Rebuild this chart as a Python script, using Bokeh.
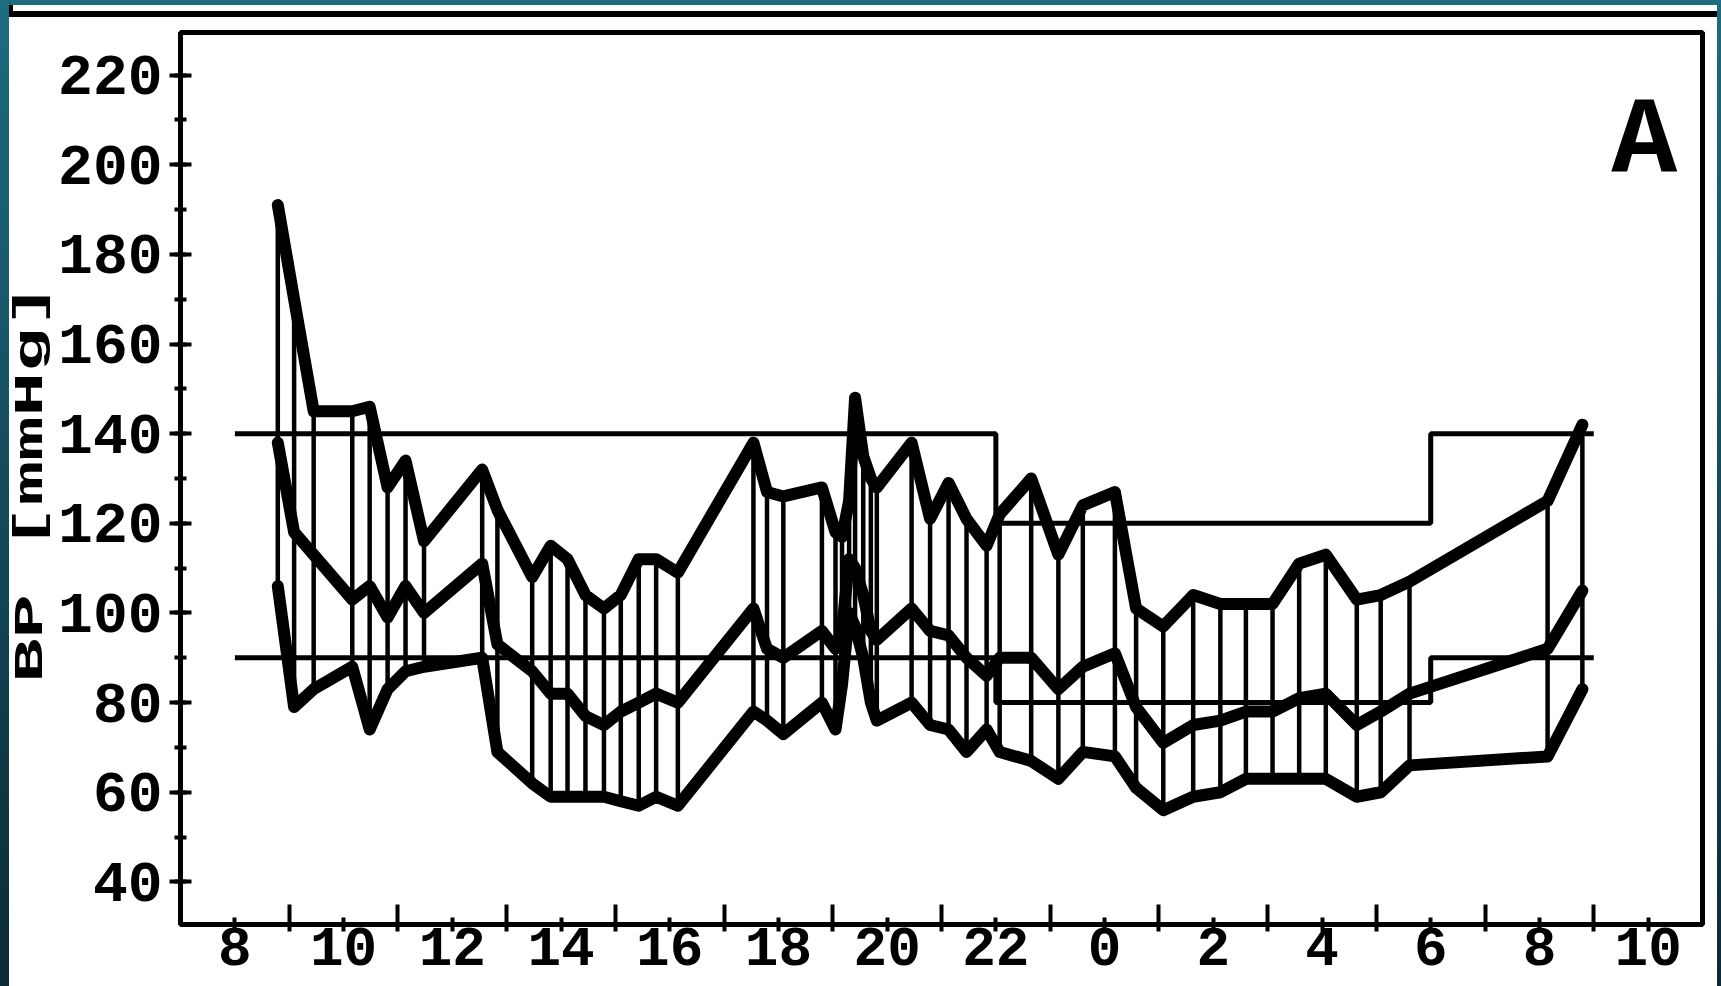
import math
from bokeh.plotting import figure
from bokeh.models import FixedTicker, SingleIntervalTicker, Label, Div, Range1d
from bokeh.layouts import column, row
from bokeh.embed import file_html
from bokeh.resources import INLINE

# ---- data (hours of day, continuous; 24 = midnight) ----
times = [8.79, 9.09, 9.45, 10.16, 10.48, 10.81, 11.14, 11.48, 12.55, 12.83,
         13.47, 13.81, 14.12, 14.45, 14.79, 15.10, 15.43, 15.75, 16.15, 17.54,
         17.79, 18.09, 18.80, 19.05, 19.17, 19.30, 19.41, 19.56, 19.70, 19.81,
         20.45, 20.79, 21.13, 21.46, 21.83, 22.07, 22.65, 23.15, 23.60, 24.19,
         24.58, 25.08, 25.63, 26.13, 26.60, 27.09, 27.58, 28.07, 28.64, 29.08,
         29.61, 32.15, 32.79]
systolic = [191, 170, 145, 145, 146, 128, 134, 116, 132, 123,
            108, 115, 112, 104, 101, 104, 112, 112, 109, 138,
            127, 126, 128, 118, 117, 125, 148, 135, 130, 128,
            138, 121, 129, 121, 115, 122, 130, 113, 124, 127,
            101, 97, 104, 102, 102, 102, 111, 113, 103, 104,
            107, 125, 142]
mean_bp = [138, 118, 113, 103, 106, 99, 106, 100, 111, 93,
           87, 82, 82, 77, 75, 78, 80, 82, 80, 101,
           92, 90, 96, 92, 96, 112, 110, 104, 96, 94,
           101, 96, 95, 90, 86, 90, 90, 83, 88, 91,
           79, 71, 75, 76, 78, 78, 81, 82, 75, 78,
           82, 92, 105]
diastolic = [106, 79, 83, 88, 74, 83, 87, 88, 90, 69,
             62, 59, 59, 59, 59, 58, 57, 59, 57, 78,
             76, 73, 80, 74, 84, 100, 97, 90, 80, 76,
             80, 75, 74, 69, 74, 69, 67, 63, 69, 68,
             61, 56, 59, 60, 63, 63, 63, 63, 59, 60,
             66, 68, 83]

# day / night limits (step changes at 22:00 and 6:00)
limit_x = [8.0, 22.0, 30.0, 33.0]
sys_limit = [140, 120, 140, 140]
dia_limit = [90, 80, 90, 90]

tick_hours = [8, 10, 12, 14, 16, 18, 20, 22, 24, 26, 28, 30, 32, 34]
tick_labels = ["8", "10", "12", "14", "16", "18", "20", "22", "0", "2", "4", "6", "8", "10"]
minor_hours = [9, 11, 13, 15, 17, 19, 21, 23, 25, 27, 29, 31, 33]

FONT = "Liberation Mono"
LABEL_W = 46
W, H = 1708 - LABEL_W, 969

p = figure(width=W, height=H, x_range=Range1d(7.0, 35.0), y_range=Range1d(30.5, 229.5),
           output_backend="svg", toolbar_location=None,
           min_border_left=178 - 9 - LABEL_W, min_border_right=15,
           min_border_top=15, min_border_bottom=62)
p.background_fill_color = "white"
p.border_fill_color = "white"
p.outline_line_color = "black"
p.outline_line_width = 5
p.grid.visible = False

# x axis
xa = p.xaxis[0]
xa.ticker = FixedTicker(ticks=tick_hours, minor_ticks=minor_hours)
xa.major_label_overrides = {h: lab for h, lab in zip(tick_hours, tick_labels)}
xa.axis_line_width = 5
xa.axis_line_color = "black"
xa.major_tick_in = 7
xa.major_tick_out = 7
xa.major_tick_line_width = 4
xa.minor_tick_in = 20
xa.minor_tick_out = 7
xa.minor_tick_line_width = 4
xa.major_label_text_font = FONT
xa.major_label_text_font_style = "bold"
xa.major_label_text_font_size = "56px"
xa.major_label_text_line_height = 0.8
xa.major_label_text_color = "black"
xa.major_label_standoff = -4

# y axis
ya = p.yaxis[0]
ya.ticker = SingleIntervalTicker(interval=20, num_minor_ticks=2)
ya.axis_line_width = 5
ya.axis_line_color = "black"
ya.major_tick_in = 11
ya.major_tick_out = 11
ya.major_tick_line_width = 4
ya.minor_tick_in = 6
ya.minor_tick_out = 6
ya.minor_tick_line_width = 4
ya.major_label_text_font = FONT
ya.major_label_text_font_style = "bold"
ya.major_label_text_font_size = "58px"
ya.major_label_text_color = "black"
ya.major_label_standoff = 7

# vertical connectors systolic -> diastolic
p.segment(x0=times, y0=diastolic, x1=times, y1=systolic, line_color="black", line_width=4.5)

# limit lines
p.step(x=limit_x, y=sys_limit, mode="after", line_color="black", line_width=5)
p.step(x=limit_x, y=dia_limit, mode="after", line_color="black", line_width=5)

# BP curves
for series in (systolic, mean_bp, diastolic):
    p.line(x=times, y=series, line_color="black", line_width=12, line_join="round", line_cap="round")

# marker letter top right
p.add_layout(Label(x=33.93, y=205, text="A", text_font=FONT, text_font_style="bold",
                   text_font_size="110px", text_align="center", text_baseline="alphabetic",
                   text_color="black"))

# y axis title, vertical, in a narrow white column left of the plot
ylabel = Div(
    text=('<div style="width:%dpx;height:%dpx;background:#fff;display:flex;align-items:center;'
          'justify-content:center;">'
          '<span style="writing-mode:vertical-rl;transform:translateY(-18px) rotate(180deg) scale(1,1.85);'
          "font-family:'Liberation Mono',monospace;font-weight:bold;font-size:40px;line-height:%dpx;"
          'white-space:nowrap;color:#000;">BP [mmHg]</span></div>') % (LABEL_W, H, LABEL_W),
    width=LABEL_W, height=H, margin=(0, 0, 0, 0), styles={"background-color": "#ffffff"})

bar = Div(text="", width=LABEL_W + W, height=12, margin=(0, 0, 0, 0),
          styles={"background": "linear-gradient(90deg, #000 0px, #000 4px, transparent 4px), "
                                "linear-gradient(180deg, #fff 0px, #fff 6px, #000 6px, #000 12px)"})

layout = column(bar, row(ylabel, p, spacing=0), spacing=0)

html = file_html(layout, INLINE)
style = ("<style>html{margin:0 !important;padding:0 !important;overflow:hidden !important;}"
         "body{margin:0 !important;padding:5px 0 0 9px !important;overflow:hidden !important;"
         "background:linear-gradient(#fff,#fff) 9px 17px / 1708px 969px no-repeat,"
         "linear-gradient(180deg,#1d6c80 0%,#0b2a35 100%) !important;}</style>")
html = html.replace("</head>", style + "</head>", 1)
open("out.html", "w").write(html)
